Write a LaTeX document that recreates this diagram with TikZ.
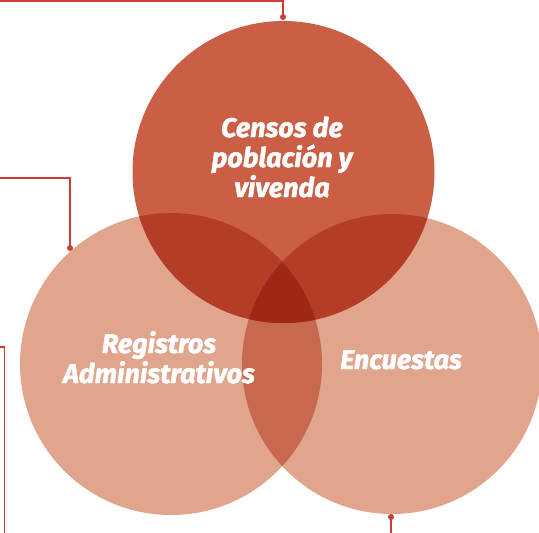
\documentclass[tikz,border=0pt]{standalone}
\usepackage{fontspec}
\setmainfont{Fira Sans}
\newfontfamily\lblfont[BoldItalicFeatures={FakeBold=1.8}]{Fira Sans}
\definecolor{topc}{HTML}{CB5F46}
\definecolor{lightc}{HTML}{E1A48D}
\definecolor{llc}{HTML}{C6694E}
\definecolor{tlc}{HTML}{B33D27}
\definecolor{cenc}{HTML}{9E2716}
\definecolor{linec}{HTML}{CF3B3B}
\tikzset{
  lbl/.style={text=white, font=\lblfont\fontsize{27}{30}\selectfont\bfseries\itshape, align=center, inner sep=0pt},
  conn/.style={draw=linec, line width=1.5pt},
  pin dot/.style={fill=linec, circle, inner sep=0pt, minimum size=6pt},
}
\begin{document}
\begin{tikzpicture}[x=1pt,y=-1pt]
\useasboundingbox (0,0) rectangle (539,533);
% circle centers
\coordinate (cT) at (283.5,172);
\coordinate (cL) at (171,364);
\coordinate (cR) at (392,364);
% base fills
\fill[lightc] (cL) circle[radius=151];
\fill[lightc] (cR) circle[radius=150];
\fill[topc] (cT) circle[radius=151];
% overlaps
\begin{scope}
  \clip (cL) circle[radius=151];
  \fill[llc] (cR) circle[radius=150];
\end{scope}
\begin{scope}
  \clip (cT) circle[radius=151];
  \fill[tlc] (cL) circle[radius=151];
  \fill[tlc] (cR) circle[radius=150];
  \clip (cL) circle[radius=151];
  \fill[cenc] (cR) circle[radius=150];
\end{scope}
% labels
\node[lbl, anchor=base] (tT) at (282,197) {Censos de\\población y\\vivenda};
\node[lbl, anchor=base] (tL) at (159,383) {Registros\\Administrativos};
\node[lbl, anchor=base] (tR) at (401,369) {Encuestas};
% connectors
\node[pin dot] (dT) at (283,17) {};
\node[pin dot] (dL) at (70,248) {};
\node[pin dot] (dR) at (391,517) {};
\coordinate (s1) at (0,1);
\coordinate (k1) at (283,1);
\coordinate (s2) at (0,178);
\coordinate (k2) at (70,178);
\coordinate (s3) at (0,347);
\coordinate (k3) at (4.5,347);
\coordinate (e3) at (4.5,533);
\coordinate (e4) at (391,533);
\draw[conn] (s1) -- (k1) -- (dT.center);
\draw[conn] (s2) -- (k2) -- (dL.center);
\draw[conn] (s3) -- (k3) -- (e3);
\draw[conn] (dR.center) -- (e4);
\end{tikzpicture}
\end{document}
